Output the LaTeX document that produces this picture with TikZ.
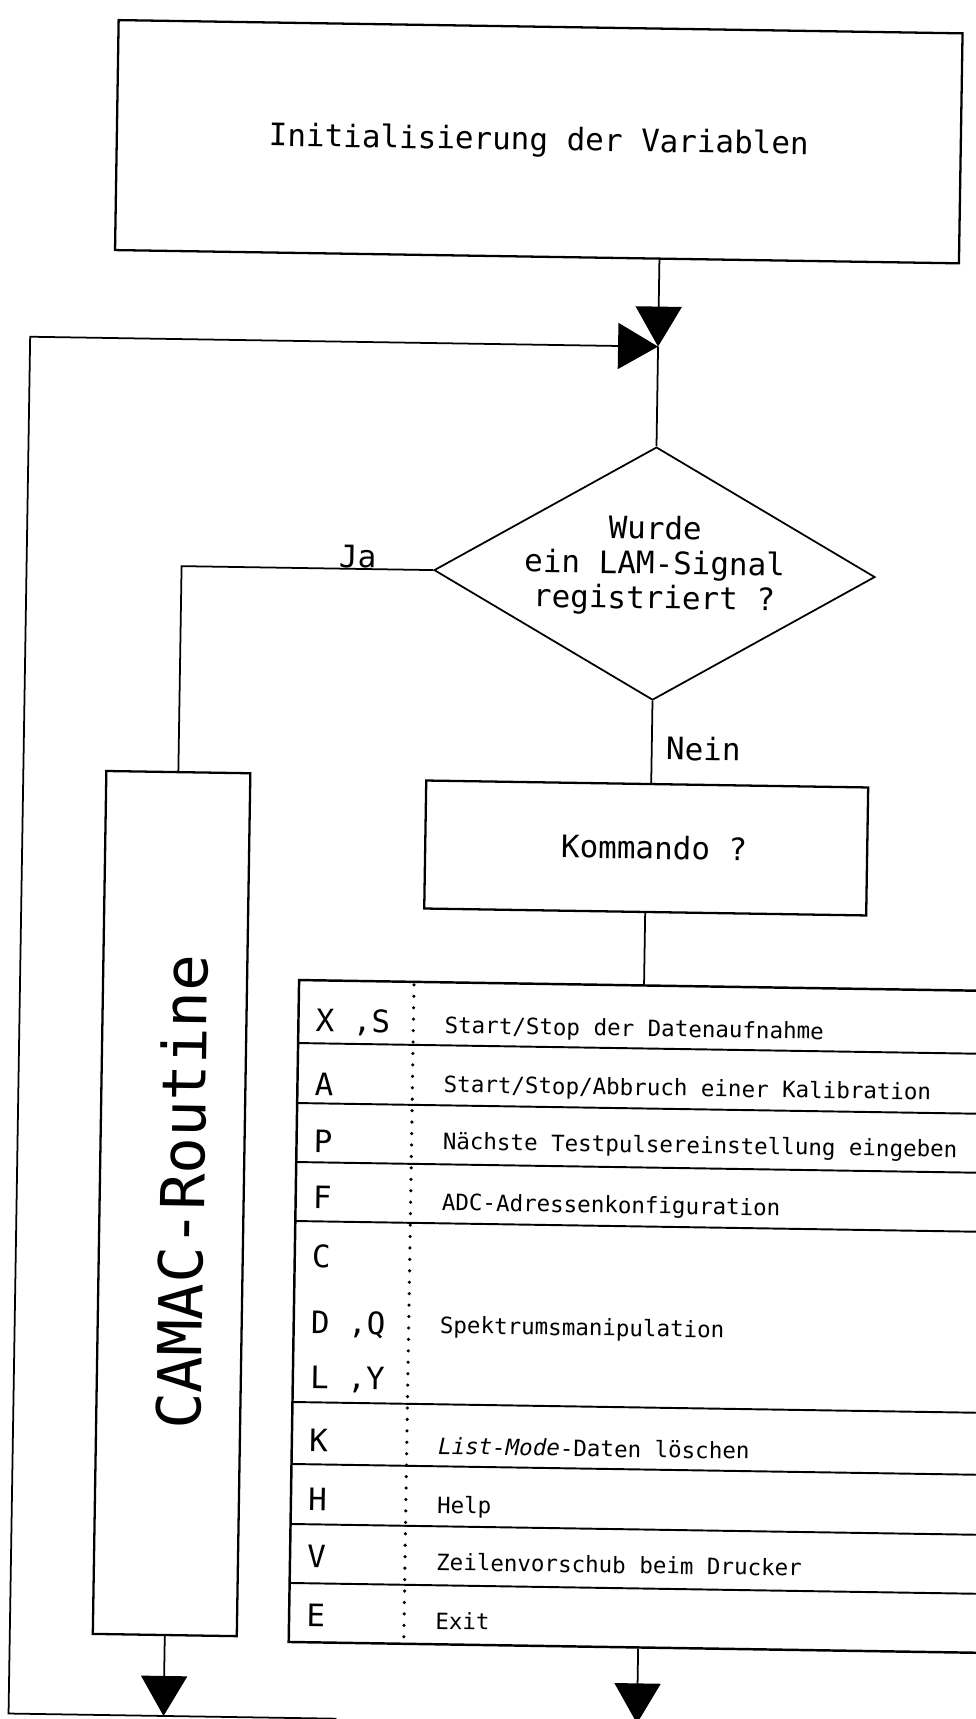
\documentclass[tikz,border=0pt]{standalone}
\usepackage{fontspec}
\setmainfont{DejaVu Sans Mono}
\usetikzlibrary{arrows.meta,shapes.geometric}
\begin{document}
\begin{tikzpicture}[x=0.02cm,y=-0.02cm,
  box/.style={draw,line width=1.3pt,rectangle,inner sep=0pt,font=\fontsize{17.6}{19.8}\selectfont},
  decision/.style={draw,line width=1pt,diamond,inner sep=0pt,aspect=1.743},
  conn/.style={line width=1pt},
  arr/.style={conn,-{Triangle[length=40*0.02cm,width=46*0.02cm]}},
  big/.style={font=\fontsize{17.6}{19.8}\selectfont,inner sep=0pt},
  small/.style={font=\fontsize{12.8}{15}\selectfont,inner sep=0pt},
  rowline/.style={line width=1.1pt},
  sep/.style={line width=2pt,dash pattern=on 0.01pt off 6.5pt,line cap=round},
]
\useasboundingbox (0,0) rectangle (976,1719);
\clip (0,0) rectangle (976,1719);
\begin{scope}[rotate around={-0.9:(488,860)},transform shape]
% boxes
\node[box,minimum width=844*0.02cm,minimum height=230*0.02cm] (init) at (527.5,141) {Initialisierung der Variablen};
\node[decision,minimum width=441*0.02cm,minimum height=253*0.02cm] (dia) at (650,571) {};
\node[big,align=center] (diatext) at (650,563) {Wurde\\ein LAM-Signal\\registriert ?};
\node[box,minimum width=442*0.02cm,minimum height=128*0.02cm] (kom) at (646,845.5) {};
\node[big] (komtext) at (654,845) {Kommando ?};
\node[box,minimum width=144*0.02cm,minimum height=863*0.02cm] (camac) at (177,1208.5) {};
\node[font=\fontsize{34.5}{36}\selectfont,inner sep=0pt,rotate=90] (camactext) at (187,1197) {CAMAC-Routine};
\node[draw,line width=1.4pt,rectangle,inner sep=0pt,minimum width=699*0.02cm,minimum height=662*0.02cm] (tab) at (650.5,1314) {};
% labels
\node[big,anchor=base west] (ja) at (334,570) {Ja};
\node[big,anchor=base west] (nein) at (664,757) {Nein};
% coordinates
\coordinate (j) at (650,344);
\coordinate (lt) at (22,344);
\coordinate (lb) at (22,1721);
\coordinate (lend) at (350,1721);
% connectors
\draw[arr] (init.south -| j) -- (j);
\draw[conn] (j) -- (dia.north);
\draw[arr] (lend) -- (lb) -- (lt) -- (j);
\draw[conn] (dia.west) -| (camac.north);
\draw[conn] (dia.south) -- (dia.south |- kom.north);
\draw[conn] (kom.south) -- (kom.south |- tab.north);
\draw[arr] (camac.south) -- (camac.south |- lb);
\draw[arr] (tab.south) -- (tab.south |- lb);
% table rows
\foreach \yy in {1046,1106,1165,1224,1405,1467,1527,1586}
  \draw[rowline] (301,\yy) -- (1000,\yy);
\draw[sep] (416,986) -- (416,1643);
% keys
\node[big,anchor=base west] (kxs) at (318,1034) {X ,S};
\node[big,anchor=base west] (ka) at (318,1098) {A};
\node[big,anchor=base west] (kp) at (318,1155) {P};
\node[big,anchor=base west] (kf) at (318,1211) {F};
\node[big,anchor=base west] (kc) at (318,1270) {C};
\node[big,anchor=base west] (kdq) at (318,1336) {D ,Q};
\node[big,anchor=base west] (kly) at (318,1391) {L ,Y};
\node[big,anchor=base west] (kk) at (318,1454) {K};
\node[big,anchor=base west] (kh) at (318,1513) {H};
\node[big,anchor=base west] (kv) at (318,1570) {V};
\node[big,anchor=base west] (ke) at (318,1629) {E};
% descriptions
\node[small,anchor=base west] (d1) at (447,1034) {Start/Stop der Datenaufnahme};
\node[small,anchor=base west] (d2) at (447,1093) {Start/Stop/Abbruch einer Kalibration};
\node[small,anchor=base west] (d3) at (447,1150) {Nächste Testpulsereinstellung eingeben};
\node[small,anchor=base west] (d4) at (447,1211) {ADC-Adressenkonfiguration};
\node[small,anchor=base west] (d5) at (447,1334) {Spektrumsmanipulation};
\node[small,anchor=base west] (d6) at (447,1455) {\textit{List-Mode}-Daten löschen};
\node[small,anchor=base west] (d7) at (447,1514) {Help};
\node[small,anchor=base west] (d8) at (447,1571) {Zeilenvorschub beim Drucker};
\node[small,anchor=base west] (d9) at (447,1630) {Exit};
\end{scope}
\end{tikzpicture}
\end{document}
